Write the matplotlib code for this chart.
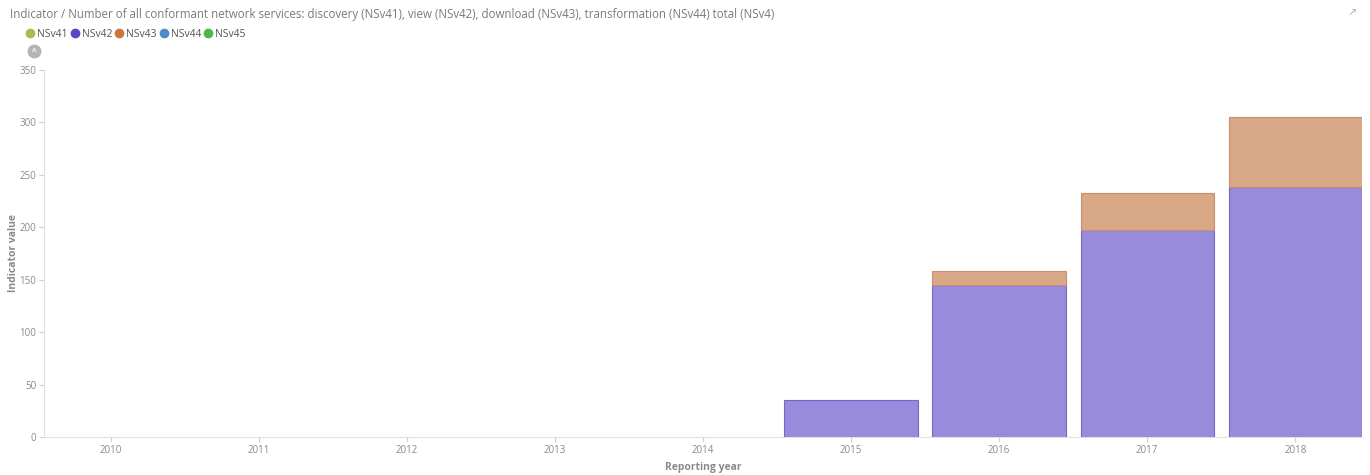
import numpy as np
import matplotlib.pyplot as plt
from matplotlib.lines import Line2D

plt.rcParams['font.family'] = ['Open Sans', 'DejaVu Sans']

years = ['2010', '2011', '2012', '2013', '2014', '2015', '2016', '2017', '2018']
nsv42 = np.array([0, 0, 0, 0, 0, 35, 145, 197, 238])
nsv43 = np.array([0, 0, 0, 0, 0, 0, 13, 36, 67])

series = ['NSv41', 'NSv42', 'NSv43', 'NSv44', 'NSv45']
dot_colors = ['#a3c14a', '#5b45c7', '#c9773f', '#4a8bc8', '#4cb84a']

grey = '#8a8a8a'
fig = plt.figure(figsize=(13.7, 4.75), dpi=100)
ax = fig.add_axes([0.0321, 0.080, 0.962, 0.773])

x = np.arange(len(years))
# empty years have no bar at all
m42 = nsv42 > 0
m43 = nsv43 > 0
ax.bar(x[m42], nsv42[m42], width=0.9, color='#988bdb', edgecolor='#7565cc', linewidth=0.8)
ax.bar(x[m43], nsv43[m43], width=0.9, bottom=nsv42[m43], color='#d8a887', edgecolor='#c98f6a', linewidth=0.8)

ax.set_xlim(-0.45, 8.45)
ax.set_ylim(0, 350)
ax.set_yticks(range(0, 351, 50))
ax.set_xticks(x)
ax.set_xticklabels(years)
ax.tick_params(colors='#d0d0d0', labelcolor=grey, labelsize=7, length=3.5, width=0.8, pad=2)
for s in ['top', 'right']:
    ax.spines[s].set_visible(False)
for s in ['left', 'bottom']:
    ax.spines[s].set_color('#e0e0e0')
ax.set_xlabel('Reporting year', fontsize=7.5, fontweight='bold', color=grey)
ax.set_ylabel('Indicator value', fontsize=7.5, fontweight='bold', color=grey)
ax.xaxis.set_label_coords(0.5, -0.069)
ax.yaxis.set_label_coords(-0.019, 0.5)

fig.text(0.0073, 0.97, 'Indicator / Number of all conformant network services: discovery (NSv41), view (NSv42), '
         'download (NSv43), transformation (NSv44) total (NSv4)', fontsize=8.3, color='#7a7a7a', va='center')

handles = [Line2D([], [], marker='o', linestyle='', color=c, markersize=6) for c in dot_colors]
fig.legend(handles, series, loc='center left', bbox_to_anchor=(0.019, 0.928), ncol=5, frameon=False,
           fontsize=7.5, handletextpad=0.25, columnspacing=0.3, handlelength=0.8, labelcolor='#555555',
           borderaxespad=0, borderpad=0)

# collapse toggle and expand icon
fig.add_artist(Line2D([0.0248], [0.893], marker='o', markersize=9, color='#b5b5b5', transform=fig.transFigure))
fig.text(0.0248, 0.891, '^', fontsize=6, color='white', ha='center', va='center', fontweight='bold')
fig.text(0.987, 0.97, '\u2197', fontsize=8, color='#b0b0b0', ha='center', va='center')

fig.savefig('out.png', dpi=100)
